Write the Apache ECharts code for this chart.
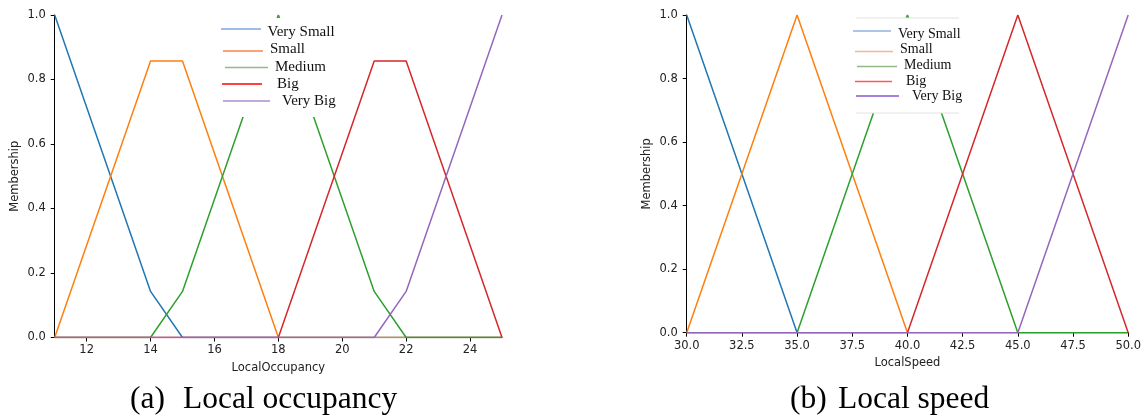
<!DOCTYPE html>
<html>
<head>
<meta charset="utf-8">
<script src="https://cdn.jsdelivr.net/npm/echarts@6/dist/echarts.min.js"></script>
<style>
html,body{margin:0;padding:0;background:#fff;}
#chart{width:1144px;height:416px;}
</style>
</head>
<body>
<div id="chart"></div>
<script>
// ---- Data ----
var seriesNames = ['Very Small', 'Small', 'Medium', 'Big', 'Very Big'];

// (a) Local occupancy, sampled at integer points
var occX = [11, 12, 13, 14, 15, 16, 17, 18, 19, 20, 21, 22, 23, 24, 25];
var occVerySmall = [1, 0.714, 0.429, 0.143, 0, 0, 0, 0, 0, 0, 0, 0, 0, 0, 0];
var occSmall     = [0, 0.286, 0.571, 0.857, 0.857, 0.571, 0.286, 0, 0, 0, 0, 0, 0, 0, 0];
var occMedium    = [0, 0, 0, 0, 0.143, 0.429, 0.714, 1, 0.714, 0.429, 0.143, 0, 0, 0, 0];
var occBig       = [0, 0, 0, 0, 0, 0, 0, 0, 0.286, 0.571, 0.857, 0.857, 0.571, 0.286, 0];
var occVeryBig   = [0, 0, 0, 0, 0, 0, 0, 0, 0, 0, 0, 0.143, 0.429, 0.714, 1];
var occTicks = [12, 14, 16, 18, 20, 22, 24];

// (b) Local speed
var spdX = [30, 35, 40, 45, 50];
var spdVerySmall = [1, 0, 0, 0, 0];
var spdSmall     = [0, 1, 0, 0, 0];
var spdMedium    = [0, 0, 1, 0, 0];
var spdBig       = [0, 0, 0, 1, 0];
var spdVeryBig   = [0, 0, 0, 0, 1];
var spdTicks = [30, 32.5, 35, 37.5, 40, 42.5, 45, 47.5, 50];

var yTicks = [0, 0.2, 0.4, 0.6, 0.8, 1.0];
var captionA = ['(a)', 'Local occupancy'];
var captionB = ['(b)', 'Local speed'];

// ---- Styles ----
var lineColors = ['#1f77b4', '#ff7f0e', '#2ca02c', '#d62728', '#9467bd'];
var legendColorsA = ['#7ea6dc', '#f5874a', '#93bb84', '#ff0000', '#a98fd3'];
var legendColorsB = ['#8fb0e0', '#f9b48a', '#93b987', '#ff5a5a', '#8a55d0'];
var tickFont = {fontFamily: 'DejaVu Sans', fontSize: 11.5, color: '#222'};

function pairs(xs, ys) { return xs.map(function (x, i) { return [x, ys[i]]; }); }

function makeSeries(xs, arrs, gi) {
  return arrs.map(function (ys, i) {
    return {
      type: 'line', name: seriesNames[i], xAxisIndex: gi, yAxisIndex: gi,
      data: pairs(xs, ys), showSymbol: false, symbol: 'none', animation: false,
      lineStyle: {color: lineColors[i], width: 1.5}, itemStyle: {color: lineColors[i]}
    };
  });
}

function xAxisDef(gi, min, max, ticks, name, fmt, gap) {
  return {
    type: 'value', gridIndex: gi, min: min, max: max,
    name: name, nameLocation: 'middle', nameGap: gap,
    nameTextStyle: {fontFamily: 'DejaVu Sans', fontSize: 11.5, color: '#222'},
    axisLine: {show: true, onZero: false, lineStyle: {color: '#000', width: 1}},
    axisTick: {show: true, length: 4, lineStyle: {color: '#000'}, customValues: ticks},
    axisLabel: Object.assign({margin: 7, customValues: ticks, formatter: fmt}, tickFont),
    splitLine: {show: false}
  };
}
function yAxisDef(gi) {
  return {
    type: 'value', gridIndex: gi, min: 0, max: 1, interval: 0.2,
    name: 'Membership', nameLocation: 'middle', nameGap: 34,
    nameTextStyle: {fontFamily: 'DejaVu Sans', fontSize: 11.5, color: '#222'},
    axisLine: {show: true, lineStyle: {color: '#000', width: 1}},
    axisTick: {show: true, length: 4, lineStyle: {color: '#000'}, customValues: yTicks},
    axisLabel: Object.assign({margin: 9, customValues: yTicks, formatter: function (v) { return v.toFixed(1); }}, tickFont),
    splitLine: {show: false}
  };
}

function legendGraphics(items, boxRect, colors, fontSize, frame) {
  var g = [];
  g.push({type: 'rect', z: 100, shape: boxRect, style: {fill: '#fff', stroke: null}});
  if (frame) {
    g.push({type: 'line', z: 101, shape: {x1: boxRect.x + 3, y1: boxRect.y, x2: boxRect.x + boxRect.width - 1, y2: boxRect.y}, style: {stroke: '#e2e2e2', lineWidth: 1}});
    g.push({type: 'line', z: 101, shape: {x1: boxRect.x + 3, y1: boxRect.y + boxRect.height, x2: boxRect.x + boxRect.width - 1, y2: boxRect.y + boxRect.height}, style: {stroke: '#e2e2e2', lineWidth: 1}});
  }
  items.forEach(function (it, i) {
    g.push({type: 'line', z: 101, shape: {x1: it.lx1, y1: it.ly, x2: it.lx2, y2: it.ly}, style: {stroke: colors[i], lineWidth: 1.6}});
    g.push({type: 'text', z: 101, x: it.tx, y: it.ty, style: {text: seriesNames[i], fill: '#111', font: fontSize + 'px "Liberation Serif"', textAlign: 'left', textVerticalAlign: 'middle', verticalAlign: 'middle'}});
  });
  return g;
}

var legendA = [
  {lx1: 221, lx2: 261, ly: 29, tx: 267.5, ty: 32},
  {lx1: 223, lx2: 263, ly: 51, tx: 270, ty: 49.5},
  {lx1: 225, lx2: 268, ly: 67.5, tx: 275, ty: 67},
  {lx1: 222, lx2: 262, ly: 84, tx: 277, ty: 84},
  {lx1: 223, lx2: 270, ly: 101, tx: 282, ty: 101.5}
];
var legendB = [
  {lx1: 853, lx2: 891, ly: 31, tx: 898, ty: 34},
  {lx1: 855, lx2: 893, ly: 51.5, tx: 900, ty: 49.5},
  {lx1: 857, lx2: 897, ly: 66.5, tx: 904, ty: 65.5},
  {lx1: 855, lx2: 892, ly: 81.5, tx: 906, ty: 81.5},
  {lx1: 856, lx2: 899, ly: 96, tx: 912, ty: 96}
];

var captionFont = '31.5px "Liberation Serif"';
function capText(x, t) {
  return {type: 'text', z: 101, x: x, y: 400, style: {text: t, fill: '#000', font: captionFont, textAlign: 'left', textVerticalAlign: 'middle', verticalAlign: 'middle'}};
}
var graphics = []
  .concat(legendGraphics(legendA, {x: 214, y: 18, width: 132, height: 99}, legendColorsA, 15, false))
  .concat(legendGraphics(legendB, {x: 853, y: 18, width: 107, height: 95}, legendColorsB, 14, true))
  .concat([
    capText(130, captionA[0]), capText(183, captionA[1]),
    capText(790, captionB[0]), capText(838, captionB[1])
  ]);

var chart = echarts.init(document.getElementById('chart'), null, {renderer: 'canvas'});
chart.setOption({
  animation: false,
  backgroundColor: '#fff',
  grid: [
    {left: 54.7, top: 15, width: 447.3, height: 322.5, containLabel: false},
    {left: 686.7, top: 15, width: 442.3, height: 317.7, containLabel: false}
  ],
  xAxis: [
    xAxisDef(0, 11, 25, occTicks, 'LocalOccupancy', function (v) { return String(v); }, 25),
    xAxisDef(1, 30, 50, spdTicks, 'LocalSpeed', function (v) { return v.toFixed(1); }, 24)
  ],
  yAxis: [yAxisDef(0), yAxisDef(1)],
  series: makeSeries(occX, [occVerySmall, occSmall, occMedium, occBig, occVeryBig], 0)
    .concat(makeSeries(spdX, [spdVerySmall, spdSmall, spdMedium, spdBig, spdVeryBig], 1)),
  graphic: graphics
});
</script>
</body>
</html>
